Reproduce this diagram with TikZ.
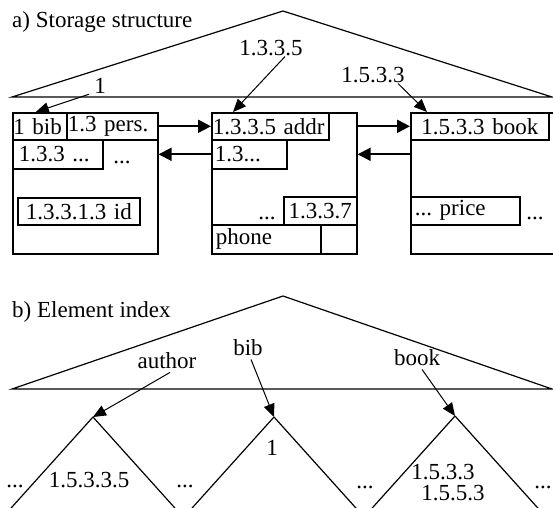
\documentclass[tikz,border=0pt]{standalone}
\usepackage{fontspec}
\setmainfont{Liberation Serif}
\usetikzlibrary{arrows.meta}

\tikzset{
  cell/.style={draw,line width=1.6pt,anchor=north west,inner xsep=3pt,inner ysep=0pt,align=left},
  frame/.style={draw,line width=1.6pt,anchor=north west,inner sep=0pt},
  lbl/.style={anchor=base,inner sep=1pt},
  ptr/.style={-{Triangle[length=13pt,width=11pt]},line width=1pt},
  link/.style={-{Triangle[length=13pt,width=13pt]},line width=2pt},
  tri/.style={line width=1.2pt,line join=miter}
}

\begin{document}
\frenchspacing
\begin{tikzpicture}[x=1pt,y=-1pt,font=\fontsize{23}{25}\selectfont]
  \clip (0,0) rectangle (553,507);

  % a) storage structure
  \node[anchor=base west,inner sep=0pt] (titleA) at (12,27) {a) Storage structure};
  \coordinate (aTop) at (283,11);
  \coordinate (aL) at (12,97);
  \coordinate (aR) at (552,97);
  \draw[tri] (aL) -- (aTop) -- (aR) -- cycle;

  \node[frame,minimum width=145pt,minimum height=141pt] (box1) at (12,112) {};
  \node[cell,text width=53pt,minimum height=27pt,inner xsep=0.5pt] (cBib) at (12,112) {1 bib};
  \node[cell,text width=89pt,minimum height=27pt,inner xsep=1pt] (cPers) at (66,112) {1.3 pers.};
  \node[cell,text width=84pt,minimum height=29pt,inner xsep=3pt] (c133) at (12,139) {\hspace*{3pt}1.3.3 ...};
  \node[lbl] (d1) at (122,163) {...};
  \node[cell,text width=118pt,minimum height=27pt,inner xsep=2pt,align=center] (cId) at (17,197) {1.3.3.1.3 id};

  \node[frame,minimum width=145pt,minimum height=141pt] (box2) at (211,112) {};
  \node[cell,text width=115pt,minimum height=27pt,inner xsep=1pt] (cAddr) at (211,112) {1.3.3.5 addr};
  \node[cell,text width=69pt,minimum height=29pt] (c13) at (211,139) {1.3...};
  \node[lbl] (d2) at (267,219) {...};
  \node[cell,text width=69pt,minimum height=28pt,inner xsep=2pt,align=center] (c1337) at (283,196) {1.3.3.7};
  \node[cell,text width=101pt,minimum height=29pt,inner xsep=4pt] (cPhone) at (211,224) {phone};

  \node[frame,minimum width=160pt,minimum height=141pt] (box3) at (410,112) {};
  \node[cell,text width=134pt,minimum height=27pt,inner xsep=2pt,align=center] (cBook) at (410,112) {1.5.3.3 book};
  \node[cell,text width=101pt,minimum height=28pt,inner xsep=4pt] (cPrice) at (410,196) {... price};
  \node[lbl] (d3) at (535,219) {...};

  \draw[link] (cPers.east) -- (cAddr.west);
  \draw[link] (box2.east |- cAddr.east) -- (cBook.west);
  \draw[link] (c13.west) -- (c13.west -| box1.east);
  \draw[link] (box3.west |- c13.west) -- (box2.east |- c13.west);

  \node[lbl] (l1) at (100,93) {1};
  \node[lbl] (l1335) at (271,55) {1.3.3.5};
  \node[lbl] (l1533) at (373,82) {1.5.3.3};
  \draw[ptr] ([xshift=-4pt]l1.south west) -- ([xshift=-4pt]cBib.north);
  \draw[ptr] ([xshift=14pt]l1335.south) -- ([xshift=22pt]cAddr.north west);
  \draw[ptr] ([xshift=25pt]l1533.south) -- ([xshift=17pt]cBook.north west);

  % b) element index
  \node[anchor=base west,inner sep=0pt] (titleB) at (12,317) {b) Element index};
  \coordinate (bTop) at (283,296);
  \coordinate (bL) at (12,389);
  \coordinate (bR) at (552,389);
  \draw[tri] (bL) -- (bTop) -- (bR) -- cycle;

  \coordinate (tA) at (93,417);
  \coordinate (tB) at (274,417);
  \coordinate (tC) at (455,416);
  \foreach \t in {tA,tB,tC}
    \draw[tri] (\t) -- +(-99,110) (\t) -- +(99,110);

  \node[lbl] (lAuthor) at (167,368) {author};
  \node[lbl] (lBib) at (248,355) {bib};
  \node[lbl] (lBook) at (417,365) {book};
  \draw[ptr] ([xshift=3pt,yshift=-3pt]lAuthor.south) -- (tA);
  \draw[ptr] ([xshift=3pt,yshift=-3pt]lBib.south) -- (tB);
  \draw[ptr] ([xshift=5pt,yshift=-3pt]lBook.south) -- (tC);

  \node[lbl] (eA) at (15,487) {...};
  \node[lbl] (kA) at (89,487) {1.5.3.3.5};
  \node[lbl] (eB) at (185,487) {...};
  \node[lbl] (kB) at (272,455) {1};
  \node[lbl] (eC) at (365,488) {...};
  \node[lbl] (kC) at (443,479) {1.5.3.3};
  \node[lbl] (kD) at (453,500) {1.5.5.3};
  \node[lbl] (eD) at (543,488) {...};
\end{tikzpicture}
\end{document}
